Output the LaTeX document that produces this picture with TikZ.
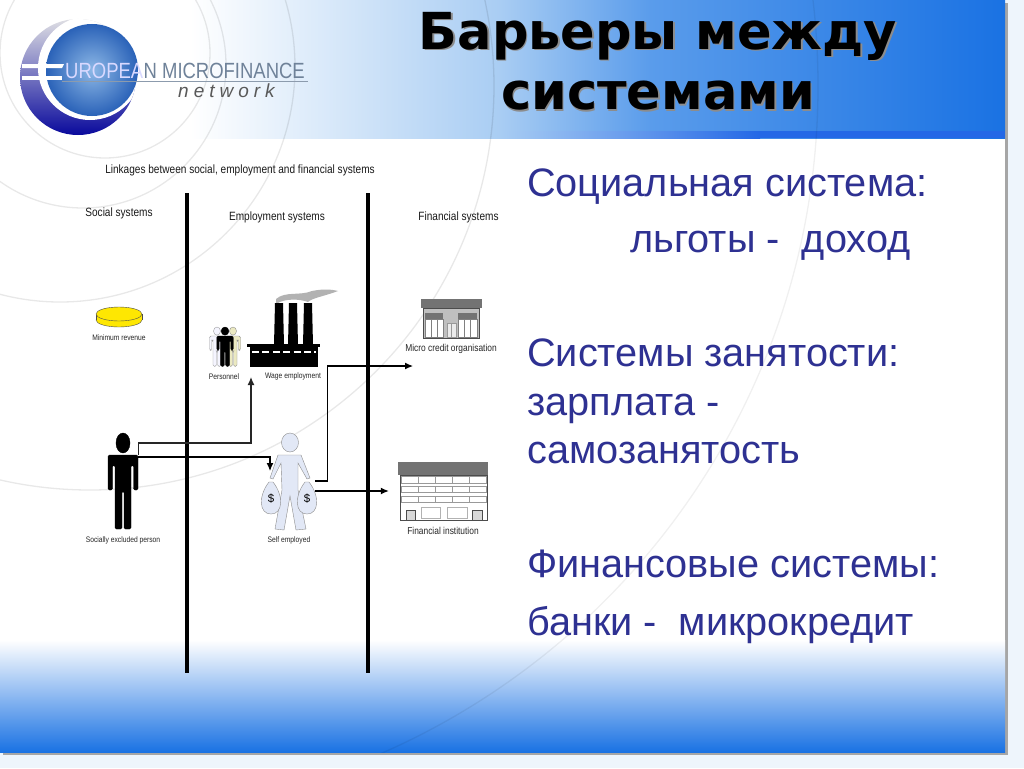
\documentclass[tikz,border=0pt]{standalone}
\usepackage{fontspec}
\setmainfont{Liberation Sans}
\newfontfamily\narrowfont[FakeStretch=0.84]{Liberation Sans}
\newfontfamily\titlefont{DejaVu Sans}
\usetikzlibrary{positioning, arrows.meta}

\definecolor{pageblue}{HTML}{EEF5FC}
\definecolor{bandblue}{HTML}{1A72E3}
\definecolor{bandmid}{HTML}{5A9CEB}
\definecolor{bandpale}{HTML}{A9CDF3}
\definecolor{stripblue}{HTML}{2468E6}
\definecolor{bodyblue}{HTML}{2E3192}
\definecolor{logotext}{HTML}{6F8299}
\definecolor{figblue}{HTML}{E2E8F6}
\definecolor{spherein}{HTML}{8DB8E6}
\definecolor{sphereout}{HTML}{2A62B8}

\tikzset{
  bodytext/.style={anchor=base west, inner sep=0pt, font=\fontsize{39.7}{40}\selectfont, text=bodyblue},
  titletext/.style={inner sep=0pt, font=\titlefont\fontsize{51}{51}\selectfont\bfseries},
  logolabel/.style={anchor=base west, inner sep=0pt, font=\narrowfont\fontsize{22}{22}\selectfont},
  headlabel/.style={inner sep=0pt, font=\narrowfont\fontsize{12}{12}\selectfont, text=black!90},
  smalllabel/.style={inner sep=0pt, font=\narrowfont\fontsize{8}{9}\selectfont, text=black!85},
  midlabel/.style={inner sep=0pt, font=\narrowfont\fontsize{10}{11}\selectfont, text=black!85},
  figbox/.style={inner sep=0pt, minimum width=#1},
  divider/.style={line width=4pt, black},
  flow/.style={->, line width=1.2pt, black!85},
  faint/.style={line width=1.3pt, black, opacity=.09},
}

% person seen from the front, origin at the top of the head
\newcommand{\personfig}[5]{%
  \begin{scope}[shift={(#1,#2)}, #3]
    \fill[#4, draw=#5] (0,10) ellipse (7 and 10);
    \fill[#4, draw=#5, rounded corners=1.5pt] (-15,22) -- (15,22) -- (15,57) -- (10.5,57) -- (10.5,32)
      -- (8,32) -- (8,96) -- (1,96) -- (1,58) -- (-1,58) -- (-1,96) -- (-8,96) -- (-8,32)
      -- (-10.5,32) -- (-10.5,57) -- (-15,57) -- cycle;
  \end{scope}}
% money bag
\newcommand{\bagfig}[2]{%
  \fill[figblue, draw=black!45] (#1-2,#2-15) .. controls (#1-13,#2-1) and (#1-12,#2+17) .. (#1,#2+17)
    .. controls (#1+12,#2+17) and (#1+13,#2-1) .. (#1+2,#2-15) -- cycle;
  \node[inner sep=0pt, font=\fontsize{11.5}{12}\selectfont] at (#1,#2+2) {\$};}
% one floor of windows
\newcommand{\windowrow}[1]{%
  \draw[black!40, fill=white] (401,#1) rectangle (486,#1+6.5);
  \draw[black!40] (418,#1) -- (418,#1+6.5) (435,#1) -- (435,#1+6.5) (452,#1) -- (452,#1+6.5) (469,#1) -- (469,#1+6.5);}

\begin{document}
\begin{tikzpicture}[>={Latex[length=8pt,width=7pt]}, x=1pt, y=-1pt]

% PAGE AND SLIDE
\fill[pageblue] (0,0) rectangle (1024,768);
\fill[black!35] (3,3) rectangle (1008,755);
\fill[white] (0,0) rectangle (1005,752);

% Top band
\shade[left color=white, right color=bandpale] (190,0) rectangle (500,138);
\shade[left color=bandpale, right color=bandmid] (500,0) rectangle (650,138);
\shade[left color=bandmid, right color=bandblue] (650,0) rectangle (1005,138);
\shade[left color=bandpale, right color=stripblue] (500,131) rectangle (760,138);
\fill[stripblue] (760,131) rectangle (1005,138);

% Bottom band
\shade[top color=white, bottom color=bandblue] (0,640) rectangle (1005,752);

% Faint rings
\begin{scope}
  \clip (0,0) rectangle (1005,752);
  \draw[faint] (105,53) circle (105);
  \draw[faint] (83,65) circle (143);
  \draw[faint] (60,67) circle (235);
  \draw[faint] (90,86) circle (404);
  \draw[faint, opacity=.06] (90,86) circle (728);
\end{scope}

% LOGO

% Crescent
\begin{scope}
  \clip (78,77) circle (58);
  \shade[top color=black!10, middle color=blue!55!black!80, bottom color=blue!60!black] (15,15) rectangle (140,140);
  \fill[white] (90,68) circle (52);
\end{scope}

% Sphere
\shade[inner color=spherein, outer color=sphereout] (92,70) circle (46);

% Euro bars
\fill[white] (22,64) -- (64,64) -- (62,68) -- (22,68) -- cycle;
\fill[white] (22,76) -- (62,76) -- (62,80) -- (22,80) -- cycle;

% Logo text
\node[logolabel, text=white!85!blue] (logoa) at (65,78) {UROPEA};
\node[logolabel, text=logotext] (logob) at (logoa.base east) {N MICROFINANCE};
\draw[logotext!80, line width=1pt] (62,81) -- (308,81);
\node[anchor=base west, inner sep=0pt, text=black!65, font=\fontsize{19}{19}\selectfont\itshape] (logoc) at (178,97)
  {n\hspace{5pt}e\hspace{5pt}t\hspace{5pt}w\hspace{5pt}o\hspace{5pt}r\hspace{5pt}k};

% TITLE
\node[titletext, text=black!45] at (659.5,37.5) {Барьеры между};
\node[titletext, text=black!45] at (659.5,97.5) {системами};
\node[titletext, text=black] (titlea) at (658,36) {Барьеры между};
\node[titletext, text=black] (titleb) at (658,96) {системами};

% DIAGRAM

% Headings
\node[headlabel] (linkages) at (240,170.5) {Linkages between social, employment and financial systems};
\node[headlabel] (social) at (119,213.5) {Social systems};
\node[headlabel] (employment) at (277,217) {Employment systems};
\node[headlabel] (financial) at (458.5,217) {Financial systems};

% Dividers
\draw[divider] (187,193) -- (187,673);
\draw[divider] (368,193) -- (368,673);

% Minimum revenue coin
\fill[yellow!90!orange, draw=black!70] (119,320) ellipse (23 and 7);
\fill[yellow!90!orange] (96,314) rectangle (142,320);
\draw[black!70] (96,314) -- (96,320) (142,314) -- (142,320);
\fill[yellow!90!orange, draw=black!70] (119,314) ellipse (23 and 7);
\node[smalllabel] (minimum) at (119,338) {Minimum revenue};

% Personnel
\personfig{217}{327}{xscale=.5, yscale=.41}{blue!4!white}{black!40}
\personfig{233}{327}{xscale=.5, yscale=.41}{olive!18!white}{black!45}
\personfig{225}{327}{xscale=.55, yscale=.41}{black}{black}
\node[smalllabel] (personnel) at (224,377) {Personnel};

% Factory
\fill[black!30] (276,299) .. controls (285,291) and (300,296) .. (312,291) .. controls (322,289) and (330,289) .. (338,291)
  .. controls (325,296) and (312,298) .. (308,302) .. controls (300,299) and (285,298) .. (276,304) -- cycle;
\fill[black] (275,303) -- (283,303) -- (284,345) -- (274,345) -- cycle;
\fill[black] (289,303) -- (297,303) -- (298,345) -- (288,345) -- cycle;
\fill[black] (304,303) -- (312,303) -- (313,345) -- (303,345) -- cycle;
\fill[black] (247,344) rectangle (320,347);
\fill[black] (250,347) rectangle (318,367);
\draw[white, line width=2pt, dash pattern=on 7pt off 3.4pt] (252,352) -- (316,352);
\node[smalllabel] (wage) at (293,376) {Wage employment};
\coordinate (wagein) at (251,377);

% Micro credit organisation
\node[figbox=62] (micro) at (451,318) {};
\fill[black!25, draw=black!70] (423,308) rectangle (479,338);
\fill[black!55] (421,299) rectangle (482,308);
\fill[white, draw=black!50] (425,319) rectangle (443,337);
\fill[white, draw=black!50] (458,319) rectangle (477,337);
\fill[black!55] (425,313) rectangle (443,319);
\fill[black!55] (458,313) rectangle (477,319);
\draw[black!50] (431,319) -- (431,337) (437,319) -- (437,337) (464,319) -- (464,337) (470,319) -- (470,337);
\fill[black!8, draw=black!40] (447,323) rectangle (456,337);
\draw[black!40] (451.5,323) -- (451.5,337);
\node[midlabel] (microlabel) at (451,349) {Micro credit organisation};
\coordinate (microin) at (413,366);

% Financial institution
\node[figbox=90, minimum height=58pt] (bank) at (443,491) {};
\fill[white, draw=black!70] (400,475) rectangle (487,520);
\fill[black!55] (398,462) rectangle (488,475);
\windowrow{476.5}
\windowrow{486}
\windowrow{496}
\draw[black!30] (421,507) rectangle (440,518) (447,507) rectangle (467,518);
\fill[black!15, draw=black!70] (406,510) rectangle (415,520);
\fill[black!15, draw=black!70] (472,510) rectangle (482,520);
\node[midlabel] (banklabel) at (443,531) {Financial institution};

% Socially excluded person
\node[figbox=30, minimum height=97pt] (excluded) at (123,481) {};
\personfig{123}{433}{scale=1}{black}{black}
\node[smalllabel] (excludedlabel) at (123,540) {Socially excluded person};

% Self employed
\node[figbox=46, minimum height=97pt] (self) at (292,481) {};
\fill[figblue, draw=black!45] (290,442.5) ellipse (8.5 and 9.5);
\fill[figblue, draw=black!45] (278,455) -- (301,455) -- (310,478) -- (307,479) -- (298,463)
  -- (298,490) -- (306,529) -- (296,530) -- (290,496) -- (284,530) -- (275,529) -- (282,490)
  -- (281,463) -- (273,479) -- (270,478) -- cycle;
\bagfig{271}{497}
\bagfig{307}{497}
\node[smalllabel] (selflabel) at (289,540) {Self employed};
\coordinate (selfin) at (270,471);

% Arrows
\draw[flow] ([yshift=26pt]excluded.east) -- ([yshift=38pt]excluded.east) -| (wagein);
\draw[flow, black] ([yshift=24pt]excluded.east) -| (selfin);
\draw[flow, black] (self.east) -- ++(12,0) |- (microin);
\draw[flow, black, shorten >=9pt] ([yshift=-10pt]self.east) -- (bank.west |- 0,491);

% RIGHT TEXT
\node[bodytext] (socialsys) at (527,196) {Социальная система:};
\node[bodytext] (benefits) at (630,252) {льготы -\ \ доход};
\node[bodytext] (employsys) at (527,366) {Системы занятости:};
\node[bodytext] (salary) at (527,415) {зарплата -};
\node[bodytext] (selfemp) at (527,463) {самозанятость};
\node[bodytext] (finsys) at (527,577) {Финансовые системы:};
\node[bodytext] (banks) at (527,635) {банки -\ \ микрокредит};

\end{tikzpicture}
\end{document}
